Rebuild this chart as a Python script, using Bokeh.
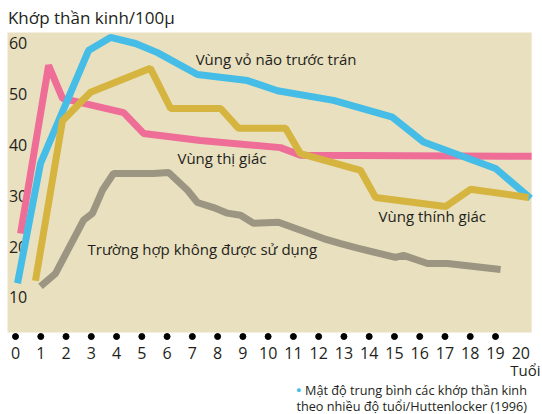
from bokeh.plotting import figure
from bokeh.models import Label, BoxAnnotation, Range1d
from bokeh.core.properties import value
from bokeh.embed import file_html
from bokeh.resources import INLINE

# ---- data ----
x_ticks = list(range(0, 21))
x_dots = list(range(0, 20))
y_ticks = [10, 20, 30, 40, 50, 60]

prefrontal_x = [0.08, 0.99, 2.89, 3.76, 4.75, 5.62, 7.2, 9.18, 10.37, 12.59, 14.92, 16.15, 19.0, 20.39]
prefrontal_y = [12.8, 36.4, 58.6, 61.2, 60.0, 58.2, 53.9, 52.7, 50.7, 48.8, 45.5, 40.6, 35.4, 29.5]

visual_x = [0.2, 1.31, 1.86, 4.28, 5.07, 7.32, 10.49, 11.28, 20.43]
visual_y = [22.6, 55.7, 49.2, 46.4, 42.3, 40.9, 39.5, 38.0, 37.8]

auditory_x = [0.79, 1.86, 2.97, 5.34, 6.14, 8.12, 8.83, 10.69, 11.28, 13.66, 14.25, 17.02, 18.01, 20.31]
auditory_y = [13.3, 44.8, 50.4, 55.1, 47.2, 47.2, 43.3, 43.3, 38.3, 35.0, 29.7, 27.9, 31.3, 29.7]

unused_x = [0.99, 1.58, 2.69, 3.05, 3.44, 3.88, 5.46, 6.06, 6.81, 7.2, 7.84, 8.39, 8.91, 9.42,
            10.41, 12.19, 12.87, 13.54, 15.04, 15.36, 16.31, 17.1, 19.2]
unused_y = [12.2, 14.7, 25.2, 26.6, 31.1, 34.4, 34.4, 34.6, 31.1, 28.7, 27.7, 26.6, 26.2, 24.6,
            24.8, 21.6, 20.6, 19.7, 17.9, 18.3, 16.7, 16.7, 15.5]

title_text = "Khớp thần kinh/100μ"
x_title = "Tuổi"
legend_line1 = "Mật độ trung bình các khớp thần kinh"
legend_line2 = "theo nhiều độ tuổi/Huttenlocker (1996)"
label_prefrontal = "Vùng vỏ não trước trán"
label_visual = "Vùng thị giác"
label_auditory = "Vùng thính giác"
label_unused = "Trường hợp không được sử dụng"

# ---- style ----
FONT = "Open Sans"
TXT = "#231f20"
TAN = "#e9e0bf"
BLUE = "#45bde6"
PINK = "#ee6e98"
YELLOW = "#d5b440"
GREY = "#9b9581"
LW = 7

p = figure(width=542, height=414, x_range=Range1d(-0.594, 20.86), y_range=Range1d(-13.03, 68.46),
           output_backend="svg", toolbar_location=None,
           min_border_left=0, min_border_right=0, min_border_top=0, min_border_bottom=0)
p.outline_line_color = None
p.grid.visible = False
p.axis.visible = False
p.background_fill_color = "white"
p.border_fill_color = "white"

# plot area background
p.add_layout(BoxAnnotation(left=-0.317, right=20.43, bottom=3.11, top=62.17,
                           fill_color=TAN, fill_alpha=1.0, line_color=None, level="underlay"))

# x tick dots and labels
p.scatter(x=x_dots, y=[2.32] * len(x_dots), size=6, color="black")
p.text(x=x_ticks, y=[-1.02] * len(x_ticks), text=[str(v) for v in x_ticks],
       text_font=value(FONT), text_font_size="16px", text_color=TXT,
       text_align="center", text_baseline="middle")

# y tick labels
p.text(x=[-0.26] * len(y_ticks), y=y_ticks, text=[str(v) for v in y_ticks],
       text_font=value(FONT), text_font_size="16px", text_color=TXT,
       text_align="left", text_baseline="middle")

p.line(unused_x, unused_y, line_width=LW, color=GREY)
p.line(visual_x, visual_y, line_width=LW, color=PINK)
p.line(prefrontal_x, prefrontal_y, line_width=LW, color=BLUE)
p.line(auditory_x, auditory_y, line_width=LW, color=YELLOW)

def lab(x, y, text, size="15px", align="left", color=TXT):
    p.add_layout(Label(x=x, y=y, text=text, text_font=FONT, text_font_size=size,
                       text_color=color, text_align=align, text_baseline="middle"))

lab(7.13, 56.9, label_prefrontal)
lab(6.41, 37.5, label_visual)
lab(14.37, 26.1, label_auditory)
lab(2.85, 19.6, label_unused)

lab(-0.3, 65.1, title_text, size="17px")
lab(20.78, -4.2, x_title, size="15px", align="right")
lab(11.1, -8.2, "●", size="9px", color=BLUE)
lab(11.46, -8.2, legend_line1, size="12.7px")
lab(11.12, -11.35, legend_line2, size="12.7px")

open("out.html", "w").write(file_html(p, INLINE))
